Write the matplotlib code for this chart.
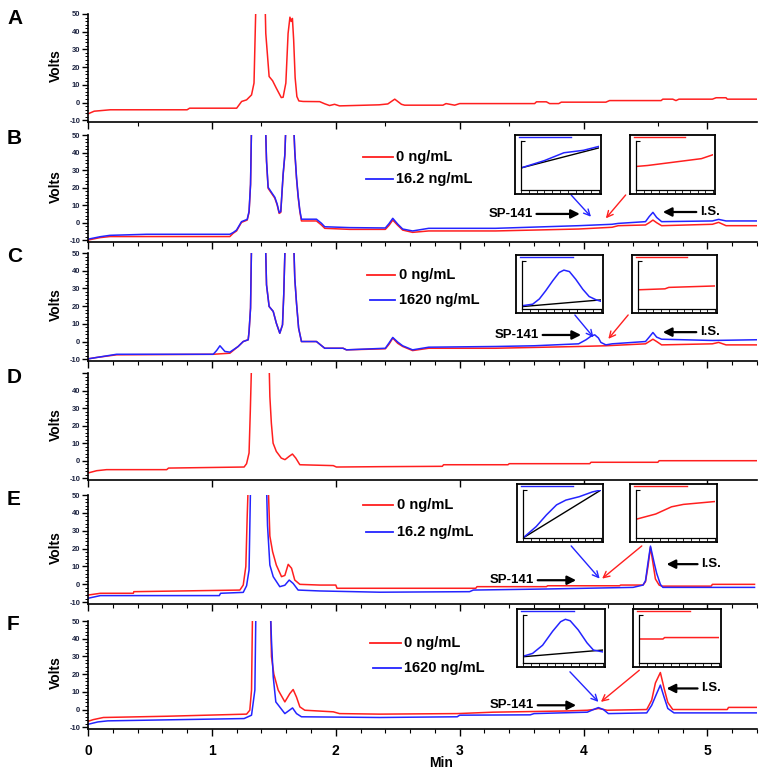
import matplotlib
matplotlib.use('Agg')
import matplotlib.pyplot as plt
from matplotlib.lines import Line2D
from matplotlib.ticker import MultipleLocator, FixedLocator

plt.rcParams['font.family'] = ['Liberation Sans', 'DejaVu Sans']
plt.rcParams['font.weight'] = 'bold'

W, H = 764, 776
RED = '#ff1f1f'
BLUE = '#2424ff'

# ---------------- data (time in min, signal in Volts) ----------------
A_t = [0.00,0.05,0.18,0.80,0.82,1.20,1.24,1.28,1.32,1.34,1.355,1.43,1.435,1.462,1.49,1.52,1.56,1.575,1.597,1.615,
       1.630,1.640,1.650,1.660,1.672,1.686,1.702,1.736,1.87,1.91,1.95,1.99,2.03,2.35,2.42,2.476,2.53,2.556,2.865,2.89,
       2.96,3.00,3.605,3.62,3.70,3.726,3.80,3.82,4.18,4.21,4.626,4.64,4.72,4.746,4.77,5.04,5.07,5.15,5.16,5.40]
A_red = [-6.4,-4.9,-4.1,-4.1,-3.2,-3.2,0.6,1.5,4.3,11.0,55,55,39.0,14.7,12.3,8.1,2.8,3.0,11.0,39.0,
         48.2,45.8,47.5,35.4,14.0,3.4,0.9,0.6,0.5,-0.7,-1.7,-1.0,-1.9,-1.3,-0.8,1.9,-1.0,-1.5,-1.5,-0.6,
         -1.5,-0.6,-0.6,0.4,0.4,-0.6,-0.6,0.2,0.2,1.1,1.1,1.9,1.9,1.1,1.9,1.9,2.7,2.7,1.9,1.9]

B_t_red = [0.00,0.097,0.177,1.145,1.172,1.199,1.239,1.285,1.300,1.312,1.320,1.433,1.441,1.454,1.481,1.508,1.527,1.543,1.556,1.575,
           1.589,1.597,1.661,1.669,1.683,1.696,1.710,1.723,1.844,1.884,1.911,2.113,2.40,2.43,2.46,2.50,2.54,2.62,2.75,3.29,
           3.96,4.23,4.28,4.50,4.53,4.56,4.59,4.63,5.04,5.09,5.15,5.40]
B_red = [-9.9,-8.5,-7.9,-7.9,-6.0,-4.7,0.2,1.5,5.9,21.5,55,55,34.8,19.6,16.8,14.0,10.1,5.3,5.9,27.2,
         38.6,55,55,40.5,25.3,14.8,6.3,1.0,1.0,-1.3,-3.2,-3.8,-3.8,-1.5,1.5,-1.5,-4.2,-5.5,-4.7,-4.7,
         -3.6,-2.6,-1.7,-1.3,0.0,1.5,0.0,-1.7,-0.9,0.2,-1.7,-1.7]
B_t_blue = [0.00,0.097,0.177,0.473,1.145,1.172,1.199,1.239,1.285,1.300,1.312,1.320,1.433,1.441,1.454,1.481,1.508,1.527,1.543,1.556,
            1.575,1.589,1.597,1.661,1.669,1.683,1.696,1.710,1.723,1.844,1.884,1.911,2.113,2.40,2.43,2.46,2.50,2.54,2.62,2.75,
            3.29,3.96,4.23,4.28,4.50,4.53,4.56,4.59,4.63,5.04,5.09,5.15,5.40]
B_blue = [-9.4,-8.0,-7.2,-6.6,-6.6,-5.6,-4.2,0.6,1.9,6.5,22,55,55,35.5,20.2,17.3,14.5,10.6,5.8,6.4,
          27.7,39,55,55,41,26,15.5,7,2,2,-0.3,-2.3,-2.8,-3.0,-0.5,2.5,-0.8,-3.6,-4.7,-3.2,
          -3.2,-1.7,-0.9,-0.4,0.6,3.5,5.9,3.0,0.6,1.0,1.9,1.0,1.0]

C_t_red = [0.00,0.07,0.231,1.011,1.145,1.212,1.253,1.293,1.300,1.312,1.320,1.433,1.441,1.462,1.495,1.52,1.548,1.57,1.58,1.591,
           1.661,1.669,1.683,1.70,1.723,1.844,1.911,2.059,2.086,2.40,2.43,2.46,2.50,2.54,2.62,2.75,3.29,3.96,4.18,4.50,
           4.53,4.56,4.59,4.63,5.04,5.09,5.15,5.40]
C_red = [-9.8,-9.0,-7.5,-7.2,-6.6,-2.8,0.0,1.0,5.6,18.9,55,55,32,19.8,17,10.4,4.7,9.4,26.4,55,
         55,35.8,21.7,7.6,0.0,0.0,-3.8,-3.8,-4.7,-4.1,-1.5,1.9,-1.0,-2.8,-5.1,-3.8,-3.8,-2.8,-2.4,-1.3,
         0.0,1.3,0.0,-1.9,-1.3,-0.5,-1.9,-1.9]
C_t_blue = [0.00,0.07,0.231,1.011,1.038,1.065,1.105,1.145,1.212,1.253,1.293,1.300,1.312,1.320,1.433,1.441,1.462,1.495,1.52,1.548,
            1.57,1.58,1.591,1.661,1.669,1.683,1.70,1.723,1.844,1.911,2.059,2.086,2.40,2.43,2.46,2.50,2.54,2.62,2.75,3.29,
            3.60,3.96,4.02,4.06,4.09,4.12,4.14,4.18,4.23,4.50,4.53,4.56,4.59,4.63,5.04,5.40]
C_blue = [-9.8,-9.0,-7.2,-7.2,-5.1,-2.4,-5.6,-6.0,-2.8,0.0,1.0,5.6,18.9,55,55,32,19.8,17,10.4,4.7,
          9.4,26.4,55,55,35.8,21.7,7.6,0.0,0.0,-3.8,-3.8,-4.7,-3.8,-0.8,2.3,-0.3,-2.4,-4.7,-3.2,-2.8,
          -2.4,-1.3,1.0,3.0,3.8,2.0,-0.5,-1.9,-1.3,0.0,2.5,5.1,2.5,1.3,0.6,1.0]

D_t = [0.00,0.07,0.15,0.635,0.65,1.26,1.28,1.30,1.31,1.32,1.462,1.468,1.48,1.494,1.52,1.56,1.59,1.624,1.65,1.677,
       1.71,1.98,2.005,2.36,2.86,2.87,3.39,3.40,4.05,4.06,4.60,4.61,5.40]
D_red = [-7.0,-5.7,-5.1,-5.1,-4.2,-3.6,-1.7,4.4,28,55,55,36.5,21.4,10,5.3,1.5,0.6,2.5,3.8,1.5,
         -2.3,-2.8,-3.6,-3.4,-3.2,-2.3,-2.3,-1.7,-1.7,-0.9,-0.9,0.0,0.0]

E_t_red = [0.00,0.10,0.366,0.37,1.226,1.253,1.274,1.285,1.293,1.455,1.468,1.49,1.52,1.562,1.589,1.616,1.643,1.669,1.71,1.871,
           2.00,2.01,3.13,3.14,3.70,3.71,4.29,4.30,4.48,4.50,4.52,4.54,4.56,4.58,4.61,4.63,5.03,5.04,5.38]
E_red = [-6.0,-5.0,-5.0,-4.1,-3.2,-0.4,10,38,55,55,27,18.3,10.8,4.3,5.0,11.2,9.0,2.4,0.0,-0.4,
         -0.4,-2.2,-2.2,-1.3,-1.3,-0.8,-0.8,-0.4,-0.4,1.5,10,20.7,12,3.0,-0.4,-1.0,-1.0,0.0,0.0]
E_t_blue = [0.00,0.10,1.06,1.07,1.253,1.28,1.30,1.312,1.441,1.449,1.468,1.495,1.548,1.589,1.624,1.656,1.696,1.871,2.355,3.08,
            3.11,3.70,4.40,4.48,4.50,4.52,4.54,4.57,4.59,4.62,4.64,5.38]
E_blue = [-7.8,-6.3,-6.3,-5.0,-4.5,-0.8,8,55,55,33,10.8,4.3,-1.3,-0.5,2.4,0.5,-3.2,-3.7,-4.4,-4.1,
          -3.2,-2.6,-1.7,-0.4,2.0,12,21.4,12,6.2,0.0,-1.7,-1.7]

F_t_red = [0.003,0.043,0.124,0.634,1.28,1.306,1.32,1.328,1.473,1.481,1.50,1.535,1.589,1.629,1.656,1.683,1.71,1.75,1.98,2.03,
           2.355,2.98,3.27,3.87,4.03,4.08,4.12,4.19,4.51,4.55,4.58,4.62,4.65,4.68,4.72,5.16,5.17,5.40]
F_red = [-6.6,-5.7,-4.5,-3.8,-2.6,-0.4,11,55,55,29.8,20,11,4.3,9,11.3,7,1.5,-0.4,-1.3,-2.3,
         -2.6,-2.3,-1.5,-0.8,-0.4,0,0.6,-0.4,0,5.3,15,20.9,12,4,0,0,1.2,1.2]
F_t_blue = [0.003,0.08,0.16,0.75,1.26,1.32,1.347,1.355,1.473,1.481,1.495,1.516,1.589,1.651,1.683,1.723,2.355,2.98,3.00,3.57,
            3.60,4.03,4.08,4.12,4.16,4.20,4.51,4.55,4.59,4.62,4.65,4.68,4.73,5.40]
F_blue = [-8.3,-7.0,-6.4,-5.7,-5.1,-3.2,11,55,55,39,18.5,4.3,-2.3,0.9,-2.3,-4.1,-4.5,-4.1,-3.2,-3.0,
          -2.3,-1.5,0,1.1,0,-2.3,-1.9,2.4,9,13.8,7,0.6,-1.9,-1.9]

# inset (zoomed) traces, as fractions of the inset plot
B_in1_x = [0, 0.3, 0.55, 0.8, 1.0]
B_in1_blue = [0.45, 0.60, 0.76, 0.81, 0.89]
B_in1_base_x = [0, 1]
B_in1_base = [0.45, 0.86]
B_in2_x = [0, 0.15, 0.3, 0.5, 0.7, 0.85, 1]
B_in2_red = [0.48, 0.50, 0.53, 0.57, 0.61, 0.64, 0.72]

C_in1_x = [0.01, 0.135, 0.22, 0.30, 0.39, 0.47, 0.53, 0.60, 0.68, 0.77, 0.85, 0.94, 1.0]
C_in1_blue = [0.07, 0.10, 0.21, 0.38, 0.59, 0.76, 0.81, 0.78, 0.62, 0.41, 0.26, 0.19, 0.16]
C_in1_base_x = [0, 1]
C_in1_base = [0.05, 0.19]
C_in2_x = [0, 0.35, 0.40, 1]
C_in2_red = [0.40, 0.42, 0.45, 0.48]

E_in1_x = [0, 0.17, 0.30, 0.43, 0.55, 0.72, 0.89, 1.0]
E_in1_blue = [0, 0.24, 0.48, 0.69, 0.79, 0.86, 0.96, 1.0]
E_in1_base_x = [0, 1]
E_in1_base = [0, 1]
E_in2_x = [0, 0.25, 0.45, 0.6, 1]
E_in2_red = [0.39, 0.50, 0.65, 0.70, 0.76]

F_in1_x = [0, 0.12, 0.245, 0.37, 0.47, 0.53, 0.59, 0.69, 0.80, 0.88, 1.0]
F_in1_blue = [0.14, 0.20, 0.37, 0.66, 0.86, 0.91, 0.88, 0.69, 0.42, 0.27, 0.23]
F_in1_base_x = [0, 1]
F_in1_base = [0.13, 0.27]
F_in2_x = [0, 0.30, 0.32, 1]
F_in2_red = [0.50, 0.50, 0.53, 0.53]

EDGE_X = [0.05, 0.65]
EDGE_Y = [0.965, 0.965]

Y_TICKS = [-10, 0, 10, 20, 30, 40, 50]
X_TICKS = [0, 1, 2, 3, 4, 5]

# ---------------- figure ----------------
fig = plt.figure(figsize=(W / 100, H / 100), dpi=100)


def rect(x0, y0, x1, y1):
    return [x0 / W, 1 - y1 / H, (x1 - x0) / W, (y1 - y0) / H]


def fx(x):
    return x / W


def fy(y):
    return 1 - y / H


def main_axes(top, bot, letter, minor_mode, ylabels, show_x):
    ax = fig.add_axes(rect(88, top, 757, bot))
    ax.set_xlim(0, 5.4)
    ax.set_ylim(-11, 50)
    for s in ['top', 'right']:
        ax.spines[s].set_visible(False)
    for s in ['left', 'bottom']:
        ax.spines[s].set_linewidth(1.2)
    ax.set_yticks(Y_TICKS)
    ax.set_yticklabels([str(v) if v in ylabels else '' for v in Y_TICKS],
                       fontsize=5.5, fontweight='bold', color='#1c2340')
    ax.yaxis.set_minor_locator(MultipleLocator(2))
    ax.tick_params(axis='y', which='major', length=4, width=1, pad=1.5, direction='out')
    ax.tick_params(axis='y', which='minor', length=2, width=0.7, direction='out')
    ax.set_xticks(X_TICKS)
    if minor_mode == 'fine':
        ax.xaxis.set_minor_locator(MultipleLocator(0.2))
    elif minor_mode == 'A':
        ax.xaxis.set_minor_locator(FixedLocator([0.4, 1.4, 2.4, 3.4, 4.6]))
    ax.tick_params(axis='x', which='major', length=5, width=1, direction='out', pad=6)
    ax.tick_params(axis='x', which='minor', length=3, width=0.8, direction='out')
    if show_x:
        ax.set_xticklabels([str(v) for v in X_TICKS], fontsize=10, fontweight='bold')
    else:
        ax.set_xticklabels([])
    cy = (top + bot) / 2
    fig.text(fx(56), fy(cy - 2), 'Volts', rotation=90, ha='center', va='center',
             fontsize=10, fontweight='bold')
    fig.text(fx(7), fy(top + 4), letter, ha='left', va='center', fontsize=15, fontweight='bold')
    return ax


def legend(x0, x1, xt, yr, yb, lab_r, lab_b):
    fig.add_artist(Line2D([fx(x0), fx(x1)], [fy(yr), fy(yr)], color=RED, lw=1.3))
    fig.add_artist(Line2D([fx(x0 + 3), fx(x1)], [fy(yb), fy(yb)], color=BLUE, lw=1.3))
    fig.text(fx(xt), fy(yr), lab_r, ha='left', va='center', fontsize=10.5, fontweight='bold')
    fig.text(fx(xt), fy(yb), lab_b, ha='left', va='center', fontsize=10.5, fontweight='bold')


def inset(box, xs, ys, col, base_x=None, base=None):
    x0, y0, x1, y1 = box
    outer = fig.add_axes(rect(x0, y0, x1, y1))
    outer.set_xlim(0, 1)
    outer.set_ylim(0, 1)
    outer.set_xticks([])
    outer.set_yticks([])
    for s in outer.spines.values():
        s.set_linewidth(1.3)
    outer.plot(EDGE_X, EDGE_Y, color=col, lw=1.0)
    inner = fig.add_axes(rect(x0 + 6, y0 + 6, x1 - 2, y1 - 4))
    inner.patch.set_alpha(0)
    inner.set_xlim(0, 1)
    inner.set_ylim(0, 1)
    for s in ['top', 'right']:
        inner.spines[s].set_visible(False)
    for s in ['left', 'bottom']:
        inner.spines[s].set_linewidth(0.9)
    inner.set_xticks([i / 10 for i in range(11)])
    inner.set_yticks([1.0])
    inner.set_xticklabels([])
    inner.set_yticklabels([])
    inner.tick_params(axis='x', length=2, width=0.6, direction='out')
    inner.tick_params(axis='y', length=3, width=0.8, direction='in')
    if base is not None:
        inner.plot(base_x, base, color='black', lw=1.0)
    inner.plot(xs, ys, color=col, lw=1.1)


def arrows(ax, sp_v, sp_tail, sp_tip, b_from, b_to, r_from, r_to, is_v, is_tail, is_tip):
    ax.annotate('', xy=(sp_tip, sp_v), xytext=(sp_tail, sp_v),
                arrowprops=dict(arrowstyle='-|>', color='black', lw=1.6, mutation_scale=13,
                                shrinkA=0, shrinkB=0))
    ax.text(sp_tail - 0.03, sp_v, 'SP-141', ha='right', va='center', fontsize=9.5, fontweight='bold')
    ax.annotate('', xy=b_to, xytext=b_from,
                arrowprops=dict(arrowstyle='->', color=BLUE, lw=1.0, mutation_scale=11,
                                shrinkA=0, shrinkB=0))
    ax.annotate('', xy=r_to, xytext=r_from,
                arrowprops=dict(arrowstyle='->', color=RED, lw=1.0, mutation_scale=11,
                                shrinkA=0, shrinkB=0))
    ax.annotate('', xy=(is_tip, is_v), xytext=(is_tail, is_v),
                arrowprops=dict(arrowstyle='-|>', color='black', lw=1.6, mutation_scale=13,
                                shrinkA=0, shrinkB=0))
    ax.text(is_tail + 0.03, is_v, 'I.S.', ha='left', va='center', fontsize=9.5, fontweight='bold')


ALL = Y_TICKS
D_LAB = [-10, 0, 10, 20, 30, 40]

# Panel A
axA = main_axes(14, 122, 'A', 'A', ALL, False)
axA.plot(A_t, A_red, color=RED, lw=1.1)

# Panel B
axB = main_axes(135, 242, 'B', 'fine', ALL, False)
axB.plot(B_t_red, B_red, color=RED, lw=1.1)
axB.plot(B_t_blue, B_blue, color=BLUE, lw=1.1)
legend(363, 393, 396, 157, 179, '0 ng/mL', '16.2 ng/mL')
arrows(axB, 5.0, 3.62, 3.97, (3.90, 15.8), (4.06, 3.4), (4.34, 15.8), (4.18, 2.5), 6.1, 4.91, 4.64)
inset((515, 135, 601, 194), B_in1_x, B_in1_blue, BLUE, B_in1_base_x, B_in1_base)
inset((630, 135, 715, 194), B_in2_x, B_in2_red, RED)

# Panel C
axC = main_axes(253, 361, 'C', 'fine', ALL, False)
axC.plot(C_t_red, C_red, color=RED, lw=1.1)
axC.plot(C_t_blue, C_blue, color=BLUE, lw=1.1)
legend(367, 395, 399, 275, 300, '0 ng/mL', '1620 ng/mL')
arrows(axC, 3.7, 3.67, 3.98, (3.93, 15.0), (4.08, 2.4), (4.36, 15.0), (4.20, 1.5), 5.3, 4.91, 4.64)
inset((516, 255, 603, 313), C_in1_x, C_in1_blue, BLUE, C_in1_base_x, C_in1_base)
inset((632, 255, 717, 313), C_in2_x, C_in2_red, RED)

# Panel D
axD = main_axes(373, 480, 'D', 'none', D_LAB, False)
axD.plot(D_t, D_red, color=RED, lw=1.1)

# Panel E
axE = main_axes(495, 604, 'E', 'fine', ALL, False)
axE.plot(E_t_red, E_red, color=RED, lw=1.1)
axE.plot(E_t_blue, E_blue, color=BLUE, lw=1.1)
legend(363, 393, 397, 505, 532, '0 ng/mL', '16.2 ng/mL')
arrows(axE, 2.3, 3.63, 3.94, (3.90, 21.5), (4.13, 3.2), (4.47, 21.5), (4.15, 3.2), 11.3, 4.92, 4.67)
inset((517, 484, 603, 542), E_in1_x, E_in1_blue, BLUE, E_in1_base_x, E_in1_base)
inset((630, 484, 717, 542), E_in2_x, E_in2_red, RED)

# Panel F
axF = main_axes(621, 729, 'F', 'fine', ALL, True)
axF.plot(F_t_red, F_red, color=RED, lw=1.1)
axF.plot(F_t_blue, F_blue, color=BLUE, lw=1.1)
legend(370, 401, 404, 643, 668, '0 ng/mL', '1620 ng/mL')
arrows(axF, 2.4, 3.63, 3.94, (3.89, 21.3), (4.12, 4.3), (4.45, 22.2), (4.14, 4.3), 11.9, 4.92, 4.67)
inset((517, 609, 605, 667), F_in1_x, F_in1_blue, BLUE, F_in1_base_x, F_in1_base)
inset((633, 609, 721, 667), F_in2_x, F_in2_red, RED)

fig.text(fx(441), fy(763), 'Min', ha='center', va='center', fontsize=10, fontweight='bold')

fig.savefig('out.png', dpi=100)
